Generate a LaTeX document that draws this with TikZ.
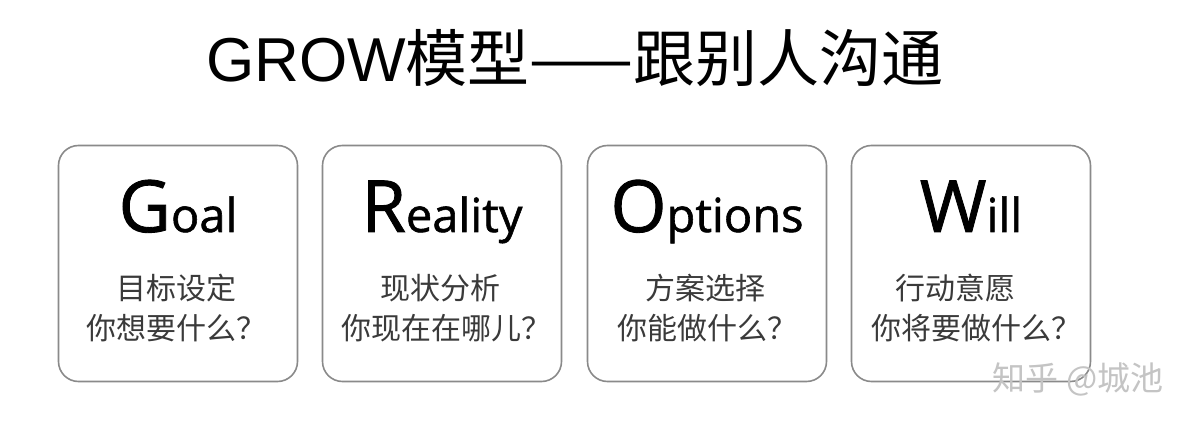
\documentclass[tikz,border=0pt]{standalone}
\usepackage{fontspec}
\setmainfont{Open Sans}
\newfontfamily\cjk{Noto Sans CJK SC}
\newfontfamily\titlelat{Liberation Sans}
\newfontfamily\boxlat[FakeBold=1.2]{Open Sans}
\definecolor{boxline}{HTML}{8A8A8A}
\definecolor{cntext}{HTML}{3A3A3A}
\definecolor{wmark}{HTML}{C4C4C4}
\tikzset{
  card/.style={draw=boxline, line width=1.6pt, rounded corners=20pt, minimum width=239pt, minimum height=236pt, inner sep=0pt},
  eng/.style={inner sep=0pt, anchor=base, text=black},
  cnline/.style={inner sep=0pt, text=cntext, font=\cjk\fontsize{30}{30}\selectfont},
}
\newcommand{\engword}[2]{{\boxlat\fontsize{72}{72}\selectfont #1}{\boxlat\fontsize{47}{47}\selectfont #2}}
\begin{document}
\begin{tikzpicture}[x=1pt,y=-1pt]
\useasboundingbox[fill=white] (0,0) rectangle (1202,430);
\node[inner sep=0pt, anchor=base] (title) at (575,82) {{\titlelat\fontsize{62}{62}\selectfont GROW}{\cjk\fontsize{62}{62}\selectfont 模型——跟别人沟通}};
% cards
\node[card] (c1) at (178,263.5) {};
\node[card] (c2) at (442,263.5) {};
\node[card] (c3) at (707,263.5) {};
\node[card] (c4) at (971,263.5) {};
% english words
\node[eng] (e1) at (178,232) {\engword{G}{oal}};
\node[eng] (e2) at (442,232) {\engword{R}{eality}};
\node[eng] (e3) at (707,232) {\engword{O}{ptions}};
\node[eng] (e4) at (971,232) {\engword{W}{ill}};
% chinese lines
\node[cnline] (a1) at (176,288) {目标设定};
\node[cnline] (b1) at (176,328) {你想要什么？};
\node[cnline] (a2) at (440,288) {现状分析};
\node[cnline] (b2) at (446,328) {你现在在哪儿？};
\node[cnline] (a3) at (705,288) {方案选择};
\node[cnline] (b3) at (707,328) {你能做什么？};
\node[cnline] (a4) at (955,288) {行动意愿};
\node[cnline] (b4) at (976,328) {你将要做什么？};
% watermark
\node[inner sep=0pt, text=wmark, font=\cjk\fontsize{33}{33}\selectfont] (wm) at (1078,379) {知乎 @城池};
\end{tikzpicture}
\end{document}
